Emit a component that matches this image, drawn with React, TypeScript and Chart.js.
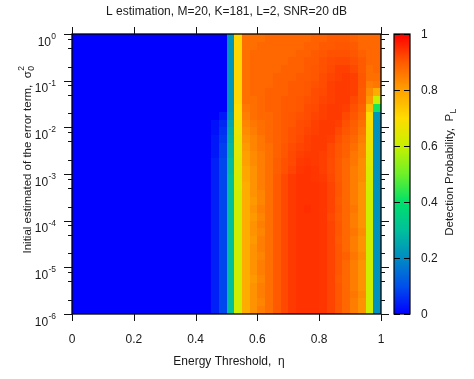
import React, { useEffect, useRef } from "react";
import { Chart, registerables } from "chart.js";

Chart.register(...registerables);

const FONT = '"Liberation Sans", Arial, Helvetica, sans-serif';

// Energy threshold η: left edge of each grid column
const thresholds = [
  0, 0.025, 0.05, 0.075, 0.1, 0.125, 0.15, 0.175, 0.2, 0.225,
  0.25, 0.275, 0.3, 0.325, 0.35, 0.375, 0.4, 0.425, 0.45, 0.475,
  0.5, 0.525, 0.55, 0.575, 0.6, 0.625, 0.65, 0.675, 0.7, 0.725,
  0.75, 0.775, 0.8, 0.825, 0.85, 0.875, 0.9, 0.925, 0.95, 0.975,
];
const thresholdStep = 0.025;

// σ0² grid row edges (log10 exponents), top to bottom
const sigmaEdgeExps = [
  0, -0.1667, -0.3333, -0.5, -0.6667, -0.8333,
  -1, -1.1667, -1.3333, -1.5, -1.6667, -1.8333,
  -2, -2.1667, -2.3333, -2.5, -2.6667, -2.8333,
  -3, -3.1667, -3.3333, -3.5, -3.6667, -3.8333,
  -4, -4.1667, -4.3333, -4.5, -4.6667, -4.8333,
  -5, -5.1667, -5.3333, -5.5, -5.6667, -5.8333, -6,
];

// Detection probability P_L, one row per σ0² band (top = 1e0), 40 columns of η
const detection: number[][] = [
  [0,0,0,0,0,0,0,0,0,0,0,0,0,0,0,0,0,0, 0,0,.22,.71, .87,.87,.87,.88,.88,.88,.88,.88,.88,.89,.89,.9,.9,.9,.89,.88, .88,.88],
  [0,0,0,0,0,0,0,0,0,0,0,0,0,0,0,0,0,0, 0,0,.22,.71, .87,.87,.88,.88,.88,.88,.88,.88,.89,.89,.9,.9,.905,.905,.9,.88, .88,.88],
  [0,0,0,0,0,0,0,0,0,0,0,0,0,0,0,0,0,0, 0,0,.22,.71, .87,.88,.88,.88,.88,.88,.88,.89,.89,.9,.905,.91,.91,.91,.905,.89, .88,.88],
  [0,0,0,0,0,0,0,0,0,0,0,0,0,0,0,0,0,0, 0,0,.22,.71, .87,.88,.88,.88,.88,.88,.89,.89,.9,.9,.91,.915,.92,.92,.91,.9, .88,.88],
  [0,0,0,0,0,0,0,0,0,0,0,0,0,0,0,0,0,0, 0,0,.22,.71, .87,.88,.88,.88,.88,.89,.89,.89,.9,.905,.91,.92,.93,.93,.92,.9, .87,.88],
  [0,0,0,0,0,0,0,0,0,0,0,0,0,0,0,0,0,0, 0,0,.22,.71, .87,.88,.88,.88,.89,.89,.89,.9,.9,.905,.915,.925,.93,.935,.93,.905, .87,.87],
  [0,0,0,0,0,0,0,0,0,0,0,0,0,0,0,0,0,0, 0,0,.22,.71, .87,.88,.88,.88,.89,.89,.9,.9,.905,.91,.915,.93,.935,.935,.93,.905, .85,.86],
  [0,0,0,0,0,0,0,0,0,0,0,0,0,0,0,0,0,0, 0,0,.22,.71, .87,.88,.88,.89,.89,.89,.9,.9,.905,.915,.92,.93,.935,.935,.93,.9, .83,.78],
  [0,0,0,0,0,0,0,0,0,0,0,0,0,0,0,0,0,0, 0,0,.22,.71, .87,.87,.88,.89,.89,.9,.9,.905,.91,.915,.925,.93,.935,.935,.92,.9, .81,.6],
  [0,0,0,0,0,0,0,0,0,0,0,0,0,0,0,0,0,0, 0,0,.22,.7, .86,.87,.88,.89,.89,.9,.9,.905,.915,.92,.93,.935,.935,.93,.91,.89, .75,.42],
  [0,0,0,0,0,0,0,0,0,0,0,0,0,0,0,0,0,0, 0,.03,.23,.69, .85,.87,.88,.88,.89,.9,.905,.91,.915,.925,.93,.935,.935,.92,.905,.88, .7,.22],
  [0,0,0,0,0,0,0,0,0,0,0,0,0,0,0,0,0,0, .02,.05,.25,.67, .84,.86,.87,.88,.89,.9,.905,.915,.92,.93,.935,.935,.93,.91,.895,.87, .69,.21],
  [0,0,0,0,0,0,0,0,0,0,0,0,0,0,0,0,0,0, .02,.06,.26,.66, .83,.85,.87,.88,.89,.9,.91,.915,.925,.93,.935,.935,.92,.905,.89,.86, .68,.21],
  [0,0,0,0,0,0,0,0,0,0,0,0,0,0,0,0,0,0, .03,.07,.27,.65, .82,.84,.86,.88,.89,.9,.91,.92,.93,.935,.935,.93,.91,.895,.88,.85, .67,.21],
  [0,0,0,0,0,0,0,0,0,0,0,0,0,0,0,0,0,0, .03,.08,.28,.64, .81,.84,.86,.87,.89,.905,.915,.925,.93,.935,.935,.92,.905,.89,.87,.84, .66,.21],
  [0,0,0,0,0,0,0,0,0,0,0,0,0,0,0,0,0,0, .03,.08,.28,.64, .8,.83,.85,.87,.89,.905,.92,.93,.935,.935,.93,.92,.905,.89,.86,.84, .65,.21],
  [0,0,0,0,0,0,0,0,0,0,0,0,0,0,0,0,0,0, .04,.09,.29,.63, .8,.83,.85,.87,.895,.91,.92,.935,.94,.935,.93,.915,.9,.88,.86,.83, .64,.21],
  [0,0,0,0,0,0,0,0,0,0,0,0,0,0,0,0,0,0, .04,.09,.29,.63, .79,.82,.85,.87,.895,.91,.925,.94,.945,.94,.93,.915,.9,.88,.85,.83, .63,.21],
  [0,0,0,0,0,0,0,0,0,0,0,0,0,0,0,0,0,0, .04,.09,.3,.62, .79,.82,.85,.87,.9,.92,.935,.945,.945,.94,.935,.92,.9,.88,.85,.83, .62,.21],
  [0,0,0,0,0,0,0,0,0,0,0,0,0,0,0,0,0,0, .04,.09,.3,.62, .78,.82,.85,.87,.9,.92,.935,.945,.945,.945,.94,.925,.905,.88,.85,.82, .62,.21],
  [0,0,0,0,0,0,0,0,0,0,0,0,0,0,0,0,0,0, .04,.09,.3,.61, .78,.82,.84,.87,.9,.92,.935,.945,.945,.945,.94,.925,.905,.88,.85,.82, .61,.21],
  [0,0,0,0,0,0,0,0,0,0,0,0,0,0,0,0,0,0, .04,.09,.3,.61, .78,.81,.84,.87,.9,.92,.935,.945,.945,.945,.94,.925,.9,.88,.85,.82, .61,.21],
  [0,0,0,0,0,0,0,0,0,0,0,0,0,0,0,0,0,0, .04,.09,.3,.61, .78,.82,.85,.87,.9,.92,.935,.945,.95,.945,.94,.925,.905,.88,.86,.82, .61,.21],
  [0,0,0,0,0,0,0,0,0,0,0,0,0,0,0,0,0,0, .04,.09,.3,.61, .78,.81,.84,.87,.9,.92,.935,.945,.945,.945,.94,.92,.9,.88,.85,.82, .61,.21],
  [0,0,0,0,0,0,0,0,0,0,0,0,0,0,0,0,0,0, .04,.09,.3,.61, .78,.82,.85,.87,.9,.92,.935,.945,.945,.945,.94,.925,.905,.88,.85,.82, .61,.21],
  [0,0,0,0,0,0,0,0,0,0,0,0,0,0,0,0,0,0, .04,.09,.3,.61, .78,.82,.84,.87,.9,.92,.935,.945,.945,.945,.94,.925,.905,.88,.86,.83, .61,.21],
  [0,0,0,0,0,0,0,0,0,0,0,0,0,0,0,0,0,0, .04,.09,.3,.61, .78,.81,.85,.87,.9,.92,.935,.945,.945,.945,.94,.925,.9,.88,.85,.82, .61,.21],
  [0,0,0,0,0,0,0,0,0,0,0,0,0,0,0,0,0,0, .04,.09,.3,.61, .78,.82,.85,.87,.9,.92,.935,.945,.945,.945,.94,.925,.905,.88,.85,.82, .61,.21],
  [0,0,0,0,0,0,0,0,0,0,0,0,0,0,0,0,0,0, .04,.09,.3,.61, .78,.82,.84,.87,.9,.92,.935,.945,.945,.945,.94,.925,.905,.89,.86,.83, .61,.21],
  [0,0,0,0,0,0,0,0,0,0,0,0,0,0,0,0,0,0, .04,.09,.3,.61, .78,.82,.85,.87,.9,.92,.935,.945,.945,.945,.94,.925,.905,.88,.85,.82, .61,.21],
  [0,0,0,0,0,0,0,0,0,0,0,0,0,0,0,0,0,0, .04,.09,.3,.61, .78,.82,.85,.87,.9,.92,.935,.945,.945,.945,.94,.925,.905,.88,.85,.82, .61,.21],
  [0,0,0,0,0,0,0,0,0,0,0,0,0,0,0,0,0,0, .04,.09,.3,.61, .78,.81,.84,.87,.9,.92,.935,.945,.945,.945,.94,.925,.9,.88,.85,.82, .61,.21],
  [0,0,0,0,0,0,0,0,0,0,0,0,0,0,0,0,0,0, .04,.09,.3,.61, .78,.82,.85,.87,.9,.92,.935,.945,.945,.945,.94,.925,.905,.88,.85,.82, .61,.21],
  [0,0,0,0,0,0,0,0,0,0,0,0,0,0,0,0,0,0, .04,.09,.3,.61, .78,.82,.85,.87,.9,.92,.935,.945,.945,.945,.94,.925,.905,.88,.86,.83, .61,.21],
  [0,0,0,0,0,0,0,0,0,0,0,0,0,0,0,0,0,0, .04,.09,.3,.61, .78,.82,.84,.87,.9,.92,.935,.945,.945,.945,.94,.925,.905,.88,.85,.82, .61,.21],
  [0,0,0,0,0,0,0,0,0,0,0,0,0,0,0,0,0,0, .04,.09,.3,.61, .78,.82,.85,.87,.9,.92,.935,.945,.945,.945,.94,.925,.905,.88,.85,.82, .61,.21],
];

const xTicks = [0, 0.2, 0.4, 0.6, 0.8, 1];
const xTickLabels = ["0", "0.2", "0.4", "0.6", "0.8", "1"];
const yTickExps = [0, -1, -2, -3, -4, -5, -6];
const yTickExpLabels = ["0", "-1", "-2", "-3", "-4", "-5", "-6"];
const yMinorMultipliers = [2, 5, 8];
const cbTicks = [0, 0.2, 0.4, 0.6, 0.8, 1];
const cbTickLabels = ["0", "0.2", "0.4", "0.6", "0.8", "1"];

const chartTitle = "L estimation, M=20, K=181, L=2, SNR=20 dB";
const xTitle = "Energy Threshold,  \u03b7";
const yTitle = "Initial estimated of the error term,  \u03c3";
const cbTitle = "Detection Probability,  P";

// palette stops (value, rgb)
const paletteStops: [number, number[]][] = [
  [0.0, [0, 0, 255]],
  [0.1, [0, 80, 235]],
  [0.2, [0, 140, 195]],
  [0.3, [0, 192, 155]],
  [0.4, [0, 225, 105]],
  [0.5, [110, 240, 40]],
  [0.6, [200, 240, 0]],
  [0.7, [255, 220, 0]],
  [0.8, [255, 160, 0]],
  [0.9, [255, 90, 0]],
  [1.0, [255, 0, 0]],
];

function colorFor(v: number): string {
  const t = Math.max(0, Math.min(1, v));
  for (let i = 1; i < paletteStops.length; i++) {
    const [v1, c1] = paletteStops[i];
    const [v0, c0] = paletteStops[i - 1];
    if (t <= v1) {
      const f = (t - v0) / (v1 - v0);
      const c = c0.map((a, k) => Math.round(a + (c1[k] - a) * f));
      return `rgb(${c[0]},${c[1]},${c[2]})`;
    }
  }
  const c = paletteStops[paletteStops.length - 1][1];
  return `rgb(${c[0]},${c[1]},${c[2]})`;
}

const TEXT = "#1a1a1a";
const FS = 12;
const FS_ROT = 11.5;
const SUP = 8.5;

export default function App() {
  const ref = useRef<HTMLCanvasElement>(null);

  useEffect(() => {
    const canvas = ref.current!;
    const plugin = {
      id: "heatmapFrame",
      afterDraw(chart: any) {
        const ctx: CanvasRenderingContext2D = chart.ctx;
        const xs = chart.scales.x;
        const ys = chart.scales.y;
        const cb = chart.scales.cb;
        const area = chart.chartArea;

        ctx.save();
        // heatmap cells
        for (let r = 0; r < detection.length; r++) {
          const y0 = Math.round(ys.getPixelForValue(Math.pow(10, sigmaEdgeExps[r])));
          const y1 = Math.round(ys.getPixelForValue(Math.pow(10, sigmaEdgeExps[r + 1])));
          for (let c = 0; c < thresholds.length; c++) {
            const x0 = Math.round(xs.getPixelForValue(thresholds[c]));
            const x1 = Math.round(xs.getPixelForValue(thresholds[c] + thresholdStep));
            ctx.fillStyle = colorFor(detection[r][c]);
            ctx.fillRect(x0, y0, x1 - x0, y1 - y0);
          }
        }

        // frame
        ctx.strokeStyle = "#000";
        ctx.lineWidth = 1.3;
        ctx.strokeRect(area.left, area.top, area.right - area.left, area.bottom - area.top);

        // x ticks (bottom + mirrored top)
        ctx.lineWidth = 1;
        ctx.strokeStyle = "#111";
        ctx.beginPath();
        xTicks.forEach((t) => {
          const px = Math.round(xs.getPixelForValue(t)) + 0.5;
          ctx.moveTo(px, area.bottom);
          ctx.lineTo(px, area.bottom + 7);
          ctx.moveTo(px, area.top - 7);
          ctx.lineTo(px, area.top);
        });
        // y ticks (left + mirrored right)
        yTickExps.forEach((e) => {
          const py = Math.round(ys.getPixelForValue(Math.pow(10, e))) + 0.5;
          ctx.moveTo(area.left - 8, py);
          ctx.lineTo(area.left, py);
          ctx.moveTo(area.right, py);
          ctx.lineTo(area.right + 8, py);
          if (e > -6) {
            yMinorMultipliers.forEach((m) => {
              const pm = Math.round(ys.getPixelForValue(m * Math.pow(10, e - 1))) + 0.5;
              ctx.moveTo(area.left - 4, pm);
              ctx.lineTo(area.left, pm);
              ctx.moveTo(area.right, pm);
              ctx.lineTo(area.right + 4, pm);
            });
          }
        });
        ctx.stroke();

        ctx.fillStyle = TEXT;
        // x tick labels
        ctx.font = `${FS}px ${FONT}`;
        ctx.textAlign = "center";
        ctx.textBaseline = "alphabetic";
        xTicks.forEach((t, i) => {
          ctx.fillText(xTickLabels[i], xs.getPixelForValue(t), 343);
        });

        // y tick labels: 10^e
        yTickExps.forEach((e, i) => {
          const py = ys.getPixelForValue(Math.pow(10, e));
          ctx.font = `${SUP}px ${FONT}`;
          ctx.textAlign = "right";
          const supW = ctx.measureText(yTickExpLabels[i]).width;
          ctx.fillText(yTickExpLabels[i], 56, py + 5);
          ctx.font = `${FS}px ${FONT}`;
          ctx.fillText("10", 56 - supW - 0.3, py + 11.5);
        });

        // chart title
        ctx.font = `${FS}px ${FONT}`;
        ctx.textAlign = "center";
        ctx.fillText(chartTitle, (area.left + area.right) / 2, 15);

        // x title
        ctx.font = `${FS}px ${FONT}`;
        ctx.fillText(xTitle, 229, 365);

        // y title (rotated), centred around y=160
        ctx.save();
        ctx.font = `${FS_ROT}px ${FONT}`;
        const yw = ctx.measureText(yTitle).width;
        ctx.font = `${SUP}px ${FONT}`;
        const yw2 = ctx.measureText("0").width;
        const yStart = 160 + (yw + yw2) / 2;
        ctx.translate(30.5, yStart);
        ctx.rotate(-Math.PI / 2);
        ctx.textAlign = "left";
        ctx.font = `${FS_ROT}px ${FONT}`;
        ctx.fillText(yTitle, 0, 0);
        ctx.font = `${SUP}px ${FONT}`;
        ctx.fillText("0", yw + 0.5, 3);
        ctx.fillText("2", yw + 0.5, -6.5);
        ctx.restore();

        // colour bar
        const cbL = 394;
        const cbR = 410;
        const cTop = cb.getPixelForValue(1);
        const cBot = cb.getPixelForValue(0);
        const grad = ctx.createLinearGradient(0, cBot, 0, cTop);
        paletteStops.forEach(([v, c]) => grad.addColorStop(v, `rgb(${c[0]},${c[1]},${c[2]})`));
        ctx.fillStyle = grad;
        ctx.fillRect(cbL, cTop, cbR - cbL, cBot - cTop);
        ctx.strokeStyle = "#000";
        ctx.lineWidth = 1.2;
        ctx.strokeRect(cbL, cTop, cbR - cbL, cBot - cTop);
        ctx.lineWidth = 1;
        ctx.beginPath();
        cbTicks.forEach((t) => {
          const py = Math.round(cb.getPixelForValue(t)) + 0.5;
          ctx.moveTo(cbL, py);
          ctx.lineTo(cbL + 6, py);
          ctx.moveTo(cbR - 6, py);
          ctx.lineTo(cbR, py);
        });
        ctx.stroke();

        ctx.fillStyle = TEXT;
        ctx.font = `${FS}px ${FONT}`;
        ctx.textAlign = "left";
        ctx.textBaseline = "middle";
        cbTicks.forEach((t, i) => {
          ctx.fillText(cbTickLabels[i], 421, cb.getPixelForValue(t) + 0.5);
        });

        // colour bar title (rotated)
        ctx.textBaseline = "alphabetic";
        ctx.save();
        ctx.font = `${FS_ROT}px ${FONT}`;
        const cw = ctx.measureText(cbTitle).width;
        ctx.font = `${SUP}px ${FONT}`;
        const sw = ctx.measureText("L").width;
        ctx.translate(452.5, 172.5);
        ctx.rotate(-Math.PI / 2);
        const start = -(cw + sw) / 2;
        ctx.font = `${FS_ROT}px ${FONT}`;
        ctx.fillText(cbTitle, start, 0);
        ctx.font = `${SUP}px ${FONT}`;
        ctx.fillText("L", start + cw + 0.5, 3);
        ctx.restore();

        ctx.restore();
      },
    };

    const chart = new Chart(canvas, {
      type: "scatter",
      data: { datasets: [{ data: [] }] },
      options: {
        responsive: false,
        animation: false,
        devicePixelRatio: 1,
        layout: { padding: { left: 72, right: 93, top: 34, bottom: 65 } },
        plugins: {
          legend: { display: false },
          tooltip: { enabled: false },
          title: { display: false },
        },
        scales: {
          x: { type: "linear", min: 0, max: 1, display: false },
          y: { type: "logarithmic", min: 1e-6, max: 1, display: false },
          cb: { type: "linear", axis: "y", position: "right", min: 0, max: 1, display: false },
        },
      } as any,
      plugins: [plugin],
    });
    return () => chart.destroy();
  }, []);

  return (
    <div style={{ position: "fixed", left: 0, top: 0, width: 474, height: 379, background: "#fff" }}>
      <canvas ref={ref} width={474} height={379} style={{ display: "block" }} />
    </div>
  );
}
